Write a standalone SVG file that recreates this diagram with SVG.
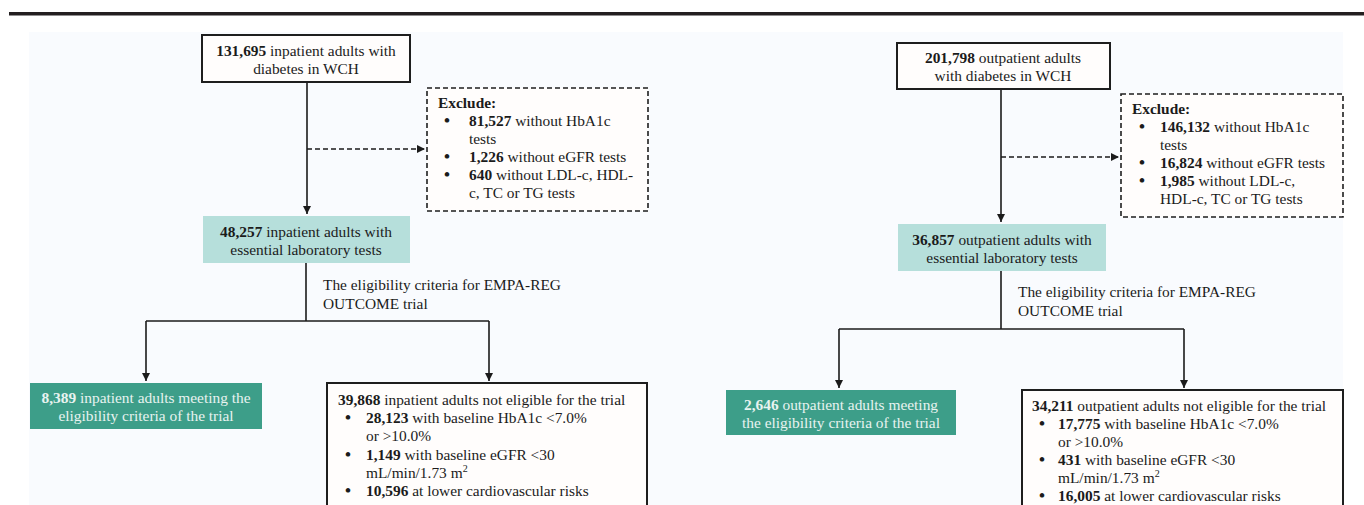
<svg xmlns="http://www.w3.org/2000/svg" width="1364" height="505" viewBox="0 0 1364 505" font-family="'Liberation Serif', 'Times New Roman', serif">
  <defs>
    <marker id="arrow" viewBox="0 0 10 10" refX="10" refY="5" markerWidth="8" markerHeight="8" markerUnits="userSpaceOnUse" orient="auto">
      <path d="M0,0 L10,5 L0,10 z" fill="#1b1b1b"/>
    </marker>
    <style>
      text { font-family: "Liberation Serif", "Times New Roman", serif; font-size: 15.4px; fill: #1b1b1b; }
      .c { text-anchor: middle; }
      .b { font-weight: bold; }
      .dot { font-size: 17px; font-weight: bold; }
      .light { fill: #e8f3f0; }
      .box { fill: #fffdfc; stroke: #1e1e1e; stroke-width: 2; }
      .dbox { fill: #fffdfc; stroke: #1e1e1e; stroke-width: 1.6; stroke-dasharray: 5 3; }
      .teal { fill: #b6dfdb; }
      .green { fill: #3d9e89; }
      .line { fill: none; stroke: #1b1b1b; stroke-width: 1.6; }
      .dash { fill: none; stroke: #1b1b1b; stroke-width: 1.6; stroke-dasharray: 5 3; }
      .sup { font-size: 10px; }
    </style>
  </defs>

  <rect width="1364" height="505" fill="#ffffff"/>
  <!-- page rule and panel -->
  <rect x="9" y="12" width="1355" height="3.5" fill="#231f20"/>
  <rect x="29" y="32" width="1314" height="473" fill="#f9fbfe"/>

  <!-- connectors -->
  <g id="connectors">
    <path class="line" d="M307,82 V214" marker-end="url(#arrow)"/>
    <path class="dash" d="M307,149 H425" marker-end="url(#arrow)"/>
    <path class="line" d="M306,263 V321"/>
    <path class="line" d="M146,321 H489"/>
    <path class="line" d="M146,321 V381" marker-end="url(#arrow)"/>
    <path class="line" d="M489,321 V381" marker-end="url(#arrow)"/>

    <path class="line" d="M1001,89 V222" marker-end="url(#arrow)"/>
    <path class="dash" d="M1001,157 H1119" marker-end="url(#arrow)"/>
    <path class="line" d="M1001,271 V329"/>
    <path class="line" d="M839,329 H1184"/>
    <path class="line" d="M839,329 V388" marker-end="url(#arrow)"/>
    <path class="line" d="M1184,329 V388" marker-end="url(#arrow)"/>
  </g>

  <!-- inpatient flow -->
  <g id="in-total">
    <rect class="box" x="202" y="35" width="208" height="47"/>
    <text class="c" x="306" y="56"><tspan class="b">131,695</tspan> inpatient adults with</text>
    <text class="c" x="306" y="74">diabetes in WCH</text>
  </g>
  <g id="in-exclude">
    <rect class="dbox" x="427" y="88" width="221" height="123"/>
    <text class="b" x="438" y="108">Exclude:</text>
    <text class="dot" x="444" y="126">•</text><text x="469" y="126"><tspan class="b">81,527</tspan> without HbA1c</text>
    <text x="469" y="144">tests</text>
    <text class="dot" x="444" y="162">•</text><text x="469" y="162"><tspan class="b">1,226</tspan> without eGFR tests</text>
    <text class="dot" x="444" y="180">•</text><text x="469" y="180"><tspan class="b">640</tspan> without LDL-c, HDL-</text>
    <text x="469" y="198">c, TC or TG tests</text>
  </g>
  <g id="in-lab">
    <rect class="teal" x="203" y="216" width="207" height="47"/>
    <text class="c" x="306" y="237"><tspan class="b">48,257</tspan> inpatient adults with</text>
    <text class="c" x="306" y="255">essential laboratory tests</text>
  </g>
  <g id="in-criteria">
    <text x="323" y="290">The eligibility criteria for EMPA-REG</text>
    <text x="323" y="309">OUTCOME trial</text>
  </g>
  <g id="in-eligible">
    <rect class="green" x="30" y="383" width="232" height="46"/>
    <text class="c light" x="146" y="403"><tspan class="b">8,389</tspan> inpatient adults meeting the</text>
    <text class="c light" x="146" y="421">eligibility criteria of the trial</text>
  </g>
  <g id="in-not-eligible">
    <rect class="box" x="327" y="383" width="320" height="130"/>
    <text x="338" y="405"><tspan class="b">39,868</tspan> inpatient adults not eligible for the trial</text>
    <text class="dot" x="345" y="423">•</text><text x="366" y="423"><tspan class="b">28,123</tspan> with baseline HbA1c &lt;7.0%</text>
    <text x="366" y="441">or &gt;10.0%</text>
    <text class="dot" x="345" y="460">•</text><text x="366" y="460"><tspan class="b">1,149</tspan> with baseline eGFR &lt;30</text>
    <text x="366" y="478">mL/min/1.73 m<tspan class="sup" dy="-6">2</tspan></text>
    <text class="dot" x="345" y="496">•</text><text x="366" y="496"><tspan class="b">10,596</tspan> at lower cardiovascular risks</text>
  </g>

  <!-- outpatient flow -->
  <g id="out-total">
    <rect class="box" x="897" y="43" width="213" height="46"/>
    <text class="c" x="1003" y="63"><tspan class="b">201,798</tspan> outpatient adults</text>
    <text class="c" x="1003" y="81">with diabetes in WCH</text>
  </g>
  <g id="out-exclude">
    <rect class="dbox" x="1121" y="94" width="222" height="123"/>
    <text class="b" x="1132" y="114">Exclude:</text>
    <text class="dot" x="1139" y="132">•</text><text x="1160" y="132"><tspan class="b">146,132</tspan> without HbA1c</text>
    <text x="1160" y="150">tests</text>
    <text class="dot" x="1139" y="168">•</text><text x="1160" y="168"><tspan class="b">16,824</tspan> without eGFR tests</text>
    <text class="dot" x="1139" y="186">•</text><text x="1160" y="186"><tspan class="b">1,985</tspan> without LDL-c,</text>
    <text x="1160" y="204">HDL-c, TC or TG tests</text>
  </g>
  <g id="out-lab">
    <rect class="teal" x="898" y="224" width="208" height="47"/>
    <text class="c" x="1002" y="245"><tspan class="b">36,857</tspan> outpatient adults with</text>
    <text class="c" x="1002" y="263">essential laboratory tests</text>
  </g>
  <g id="out-criteria">
    <text x="1018" y="297">The eligibility criteria for EMPA-REG</text>
    <text x="1018" y="316">OUTCOME trial</text>
  </g>
  <g id="out-eligible">
    <rect class="green" x="726" y="390" width="230" height="45"/>
    <text class="c light" x="841" y="410"><tspan class="b">2,646</tspan> outpatient adults meeting</text>
    <text class="c light" x="841" y="428">the eligibility criteria of the trial</text>
  </g>
  <g id="out-not-eligible">
    <rect class="box" x="1022" y="390" width="321" height="130"/>
    <text x="1032" y="411"><tspan class="b">34,211</tspan> outpatient adults not eligible for the trial</text>
    <text class="dot" x="1039" y="429">•</text><text x="1058" y="429"><tspan class="b">17,775</tspan> with baseline HbA1c &lt;7.0%</text>
    <text x="1058" y="447">or &gt;10.0%</text>
    <text class="dot" x="1039" y="465">•</text><text x="1058" y="465"><tspan class="b">431</tspan> with baseline eGFR &lt;30</text>
    <text x="1058" y="483">mL/min/1.73 m<tspan class="sup" dy="-6">2</tspan></text>
    <text class="dot" x="1039" y="501">•</text><text x="1058" y="501"><tspan class="b">16,005</tspan> at lower cardiovascular risks</text>
  </g>
</svg>
